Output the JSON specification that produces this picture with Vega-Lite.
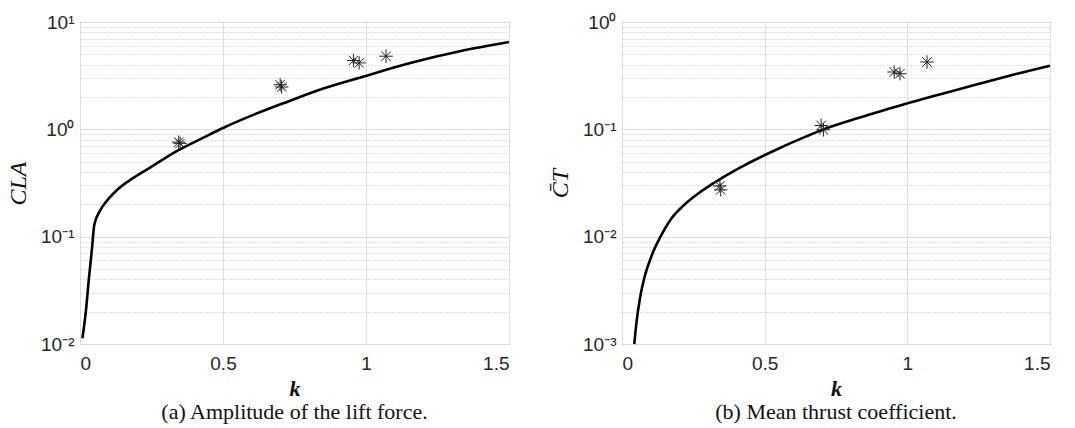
{
  "$schema": "https://vega.github.io/schema/vega-lite/v6.json",
  "padding": {"left": 6, "top": 12, "right": 10, "bottom": 5},
  "background": "white",
  "spacing": 33,
  "config": {
    "view": {"stroke": "#555", "strokeWidth": 1},
    "axis": {
      "labelFont": "Liberation Sans",
      "labelFontSize": 19,
      "labelColor": "#262626",
      "titleFont": "Liberation Serif",
      "titleFontStyle": "italic",
      "titleFontWeight": "bold",
      "titleFontSize": 22,
      "titleColor": "#111",
      "domain": false,
      "ticks": false
    },
    "title": {"font": "Liberation Serif", "fontSize": 22, "fontWeight": "normal", "color": "#111"}
  },
  "datasets": {
    "curveA": [
      {"k": 0.0084, "v": 0.0113}, {"k": 0.0204, "v": 0.020}, {"k": 0.030, "v": 0.038},
      {"k": 0.042, "v": 0.078}, {"k": 0.050, "v": 0.129}, {"k": 0.068, "v": 0.171},
      {"k": 0.092, "v": 0.213}, {"k": 0.128, "v": 0.270}, {"k": 0.188, "v": 0.355},
      {"k": 0.248, "v": 0.445}, {"k": 0.344, "v": 0.640}, {"k": 0.428, "v": 0.828},
      {"k": 0.500, "v": 1.03}, {"k": 0.608, "v": 1.37}, {"k": 0.728, "v": 1.82},
      {"k": 0.848, "v": 2.39}, {"k": 0.992, "v": 3.11}, {"k": 1.148, "v": 4.10},
      {"k": 1.328, "v": 5.33}, {"k": 1.500, "v": 6.5}
    ],
    "pointsA": [
      {"k": 0.345, "v": 0.76}, {"k": 0.350, "v": 0.74},
      {"k": 0.700, "v": 2.6}, {"k": 0.705, "v": 2.48},
      {"k": 0.956, "v": 4.38}, {"k": 0.976, "v": 4.16},
      {"k": 1.070, "v": 4.8}
    ],
    "curveB": [
      {"k": 0.043, "v": 0.001}, {"k": 0.051, "v": 0.00161}, {"k": 0.063, "v": 0.00267},
      {"k": 0.081, "v": 0.0044}, {"k": 0.105, "v": 0.00677}, {"k": 0.135, "v": 0.0100},
      {"k": 0.170, "v": 0.0144}, {"k": 0.218, "v": 0.0198}, {"k": 0.277, "v": 0.0264},
      {"k": 0.349, "v": 0.0351}, {"k": 0.432, "v": 0.0467}, {"k": 0.527, "v": 0.0622},
      {"k": 0.646, "v": 0.0859}, {"k": 0.718, "v": 0.1026}, {"k": 0.825, "v": 0.127},
      {"k": 0.944, "v": 0.158}, {"k": 1.004, "v": 0.176}, {"k": 1.123, "v": 0.215},
      {"k": 1.242, "v": 0.262}, {"k": 1.361, "v": 0.318}, {"k": 1.500, "v": 0.392}
    ],
    "pointsB": [
      {"k": 0.343, "v": 0.0297}, {"k": 0.346, "v": 0.0273},
      {"k": 0.698, "v": 0.1087}, {"k": 0.706, "v": 0.099},
      {"k": 0.954, "v": 0.342}, {"k": 0.974, "v": 0.330},
      {"k": 1.069, "v": 0.424}
    ]
  },
  "hconcat": [
    {
      "width": 429,
      "height": 322,
      "title": {"text": "(a) Amplitude of the lift force.", "orient": "bottom", "anchor": "middle", "frame": "group", "offset": 3},
      "encoding": {
        "x": {
          "field": "k", "type": "quantitative",
          "scale": {"domain": [0, 1.5], "nice": false, "zero": false},
          "axis": {"values": [0, 0.5, 1, 1.5], "title": "k", "gridColor": "#dedede", "gridWidth": 1, "labelPadding": 10, "titlePadding": 5,
                   "labelExpr": "datum.value == 0 ? '0' : datum.value == 1 ? '1' : format(datum.value, '.1f')"}
        },
        "y": {
          "field": "v", "type": "quantitative",
          "scale": {"type": "log", "domain": [0.01, 10], "nice": false},
          "axis": {
            "title": "CLA", "titlePadding": 10, "titleFontWeight": "normal", "titleFontSize": 24,
            "values": [0.01, 0.02, 0.03, 0.04, 0.05, 0.06, 0.07, 0.08, 0.09, 0.1, 0.2, 0.3, 0.4, 0.5, 0.6, 0.7, 0.8, 0.9, 1, 2, 3, 4, 5, 6, 7, 8, 9, 10],
            "labelExpr": "datum.value == 10 ? '10¹' : datum.value == 1 ? '10⁰' : datum.value == 0.1 ? '10⁻¹' : datum.value == 0.01 ? '10⁻²' : ''",
            "labelPadding": 6,
            "gridDash": {"condition": {"test": "datum.value == 10 || datum.value == 1 || datum.value == 0.1 || datum.value == 0.01", "value": []}, "value": [1, 2]},
            "gridColor": {"condition": {"test": "datum.value == 10 || datum.value == 1 || datum.value == 0.1 || datum.value == 0.01", "value": "#dcdcdc"}, "value": "#c4c4c4"}
          }
        }
      },
      "layer": [
        {"data": {"name": "curveA"}, "mark": {"type": "line", "color": "black", "strokeWidth": 2.6, "interpolate": "monotone"}},
        {"data": {"name": "pointsA"}, "mark": {"type": "point", "shape": "M0,-1V1M-1,0H1M-0.7,-0.7L0.7,0.7M-0.7,0.7L0.7,-0.7", "filled": false, "stroke": "#222", "strokeWidth": 1, "size": 180, "opacity": 1}}
      ]
    },
    {
      "width": 428,
      "height": 322,
      "title": {"text": "(b) Mean thrust coefficient.", "orient": "bottom", "anchor": "middle", "frame": "group", "offset": 3},
      "encoding": {
        "x": {
          "field": "k", "type": "quantitative",
          "scale": {"domain": [0, 1.5], "nice": false, "zero": false},
          "axis": {"values": [0, 0.5, 1, 1.5], "title": "k", "gridColor": "#dedede", "gridWidth": 1, "labelPadding": 10, "titlePadding": 5,
                   "labelExpr": "datum.value == 0 ? '0' : datum.value == 1 ? '1' : format(datum.value, '.1f')"}
        },
        "y": {
          "field": "v", "type": "quantitative",
          "scale": {"type": "log", "domain": [0.001, 1], "nice": false},
          "axis": {
            "title": "C̄T", "titlePadding": 10, "titleFontWeight": "normal", "titleFontSize": 24,
            "values": [0.001, 0.002, 0.003, 0.004, 0.005, 0.006, 0.007, 0.008, 0.009, 0.01, 0.02, 0.03, 0.04, 0.05, 0.06, 0.07, 0.08, 0.09, 0.1, 0.2, 0.3, 0.4, 0.5, 0.6, 0.7, 0.8, 0.9, 1],
            "labelExpr": "datum.value == 1 ? '10⁰' : datum.value == 0.1 ? '10⁻¹' : datum.value == 0.01 ? '10⁻²' : datum.value == 0.001 ? '10⁻³' : ''",
            "labelPadding": 6,
            "gridDash": {"condition": {"test": "datum.value == 1 || datum.value == 0.1 || datum.value == 0.01 || datum.value == 0.001", "value": []}, "value": [1, 2]},
            "gridColor": {"condition": {"test": "datum.value == 1 || datum.value == 0.1 || datum.value == 0.01 || datum.value == 0.001", "value": "#dcdcdc"}, "value": "#c4c4c4"}
          }
        }
      },
      "layer": [
        {"data": {"name": "curveB"}, "mark": {"type": "line", "color": "black", "strokeWidth": 2.6, "interpolate": "monotone"}},
        {"data": {"name": "pointsB"}, "mark": {"type": "point", "shape": "M0,-1V1M-1,0H1M-0.7,-0.7L0.7,0.7M-0.7,0.7L0.7,-0.7", "filled": false, "stroke": "#222", "strokeWidth": 1, "size": 180, "opacity": 1}}
      ]
    }
  ]
}
